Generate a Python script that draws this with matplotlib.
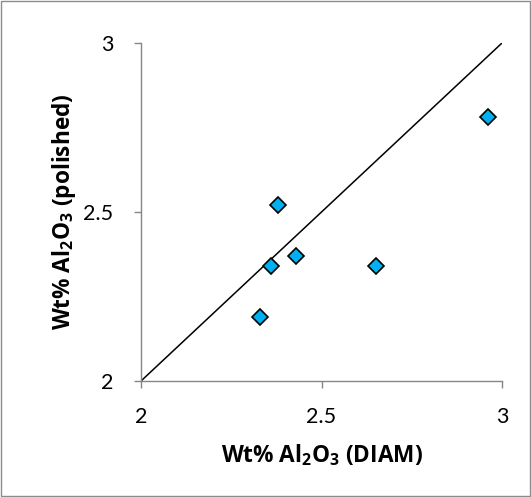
import matplotlib
matplotlib.use("Agg")
import matplotlib.pyplot as plt
from matplotlib.patches import Rectangle

# Data
diam = [2.33, 2.36, 2.38, 2.43, 2.65, 2.96]
polished = [2.19, 2.34, 2.52, 2.37, 2.34, 2.78]
ref_line = [2, 3]
ticks = [2, 2.5, 3]
tick_labels = ["2", "2.5", "3"]

plt.rcParams['font.family'] = ['Lato', 'DejaVu Sans']
plt.rcParams['mathtext.fontset'] = 'custom'
plt.rcParams['mathtext.rm'] = 'Open Sans'
plt.rcParams['mathtext.bf'] = 'Open Sans:bold'

fig = plt.figure(figsize=(5.31, 4.97), dpi=100)
ax = fig.add_axes([141/531, 116/497, 361/531, 338/497])

ax.plot(ref_line, ref_line, color='black', lw=1.1, zorder=2)
ax.plot(diam, polished, linestyle='none', marker='D', ms=8.3,
        mfc='#00B0F0', mec='black', mew=1.2, zorder=3)

ax.set_xlim(2, 3)
ax.set_ylim(2, 3)
ax.set_xticks(ticks)
ax.set_xticklabels(tick_labels)
ax.set_yticks(ticks)
ax.set_yticklabels(tick_labels)

axis_grey = '#868686'
for s in ['top', 'right']:
    ax.spines[s].set_visible(False)
for s in ['left', 'bottom']:
    ax.spines[s].set_color(axis_grey)
    ax.spines[s].set_linewidth(1.0)
ax.tick_params(axis='both', direction='out', length=5, width=1.0,
               color=axis_grey, labelsize=15.5, labelcolor='black')
ax.tick_params(axis='y', pad=15)
ax.tick_params(axis='x', pad=14)

lab_font = dict(family=['Open Sans', 'DejaVu Sans'], weight='bold', size=16.3)
ax.set_xlabel(r'Wt% Al$\mathbf{_2}$O$\mathbf{_3}$ (DIAM)', fontdict=lab_font)
ax.set_ylabel(r'Wt% Al$\mathbf{_2}$O$\mathbf{_3}$ (polished)', fontdict=lab_font)
ax.xaxis.set_label_coords(0.5, (381 - 442) / 338)
ax.yaxis.set_label_coords((78 - 141) / 361, 0.5)

fig.patches.append(Rectangle((1/531, 1/497), 529/531, 495/497, transform=fig.transFigure,
                             fill=False, edgecolor='#8c8c8c', lw=1.0))

fig.savefig('out.png', dpi=100)
